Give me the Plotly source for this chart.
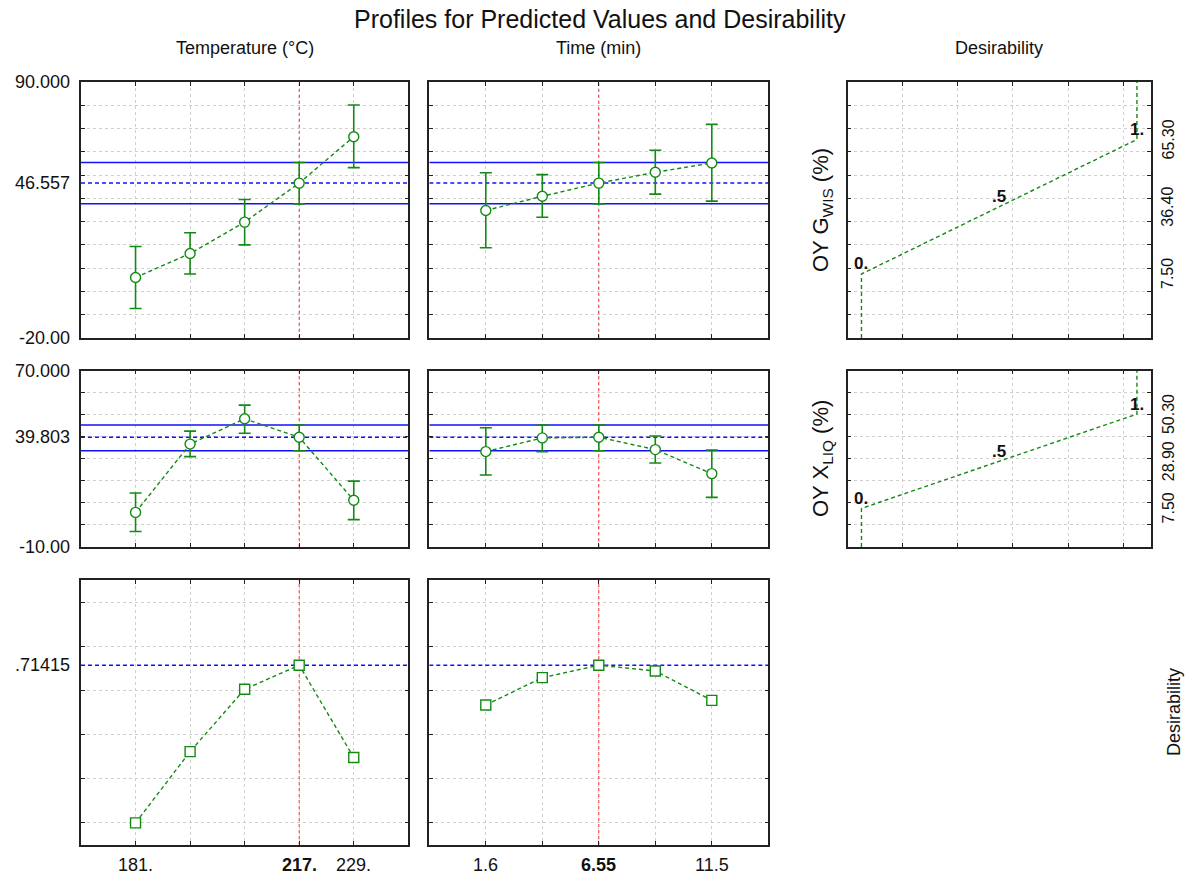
import plotly.graph_objects as go

W, H = 1192, 882

# ---- factor levels -------------------------------------------------------
temperature = [181, 193, 205, 217, 229]
time_min = [1.6, 4.075, 6.55, 9.025, 11.5]
temp_labels = ["181.", "", "", "<b>217.</b>", "229."]
time_labels = ["1.6", "", "<b>6.55</b>", "", "11.5"]
temp_current = 3   # index of 217
time_current = 2   # index of 6.55

# ---- OY G_WIS (%) predictions with confidence limits ---------------------
gwis_temp = [6.0, 16.3, 29.8, 46.557, 66.5]
gwis_temp_lo = [-7.3, 7.5, 20.0, 37.65, 53.2]
gwis_temp_hi = [19.3, 25.2, 39.5, 55.38, 80.1]

gwis_time = [34.8, 40.9, 46.557, 51.2, 55.2]
gwis_time_lo = [18.8, 31.9, 37.65, 41.8, 38.8]
gwis_time_hi = [51.0, 50.2, 55.38, 60.7, 71.8]

# ---- OY X_LIQ (%) predictions with confidence limits ---------------------
xliq_temp = [5.7, 36.7, 48.2, 39.803, 11.2]
xliq_temp_lo = [-3.0, 31.0, 41.6, 33.7, 2.4]
xliq_temp_hi = [14.5, 42.6, 54.4, 45.35, 19.9]

xliq_time = [33.3, 39.5, 39.803, 34.2, 23.3]
xliq_time_lo = [22.7, 33.3, 33.7, 28.1, 12.5]
xliq_time_hi = [44.1, 45.35, 45.35, 40.4, 34.0]

# ---- overall desirability ------------------------------------------------
desir_temp = [0.0, 0.323, 0.605, 0.71415, 0.296]
desir_time = [0.534, 0.658, 0.71415, 0.688, 0.555]

# ---- desirability function settings (value for d=0 and d=1) -------------
gwis_low, gwis_high = 7.50, 65.30
xliq_low, xliq_high = 7.50, 50.30
desir_levels = ["<b>0.</b>", "<b>.5</b>", "<b>1.</b>"]

# ---- axis ranges & labels ------------------------------------------------
gwis_range = [-20, 90]
xliq_range = [-10, 70]
desir_range = [-0.1, 1.1]
gwis_ylabels = ["-20.00", "46.557", "90.000"]
xliq_ylabels = ["-10.00", "39.803", "70.000"]
desir_ylabel = ".71415"

GREEN = "#138a13"
BLUE = "#1010ff"
RED = "#ff3030"
FONT = "Liberation Sans, Arial, sans-serif"


def px(x):
    return x / W


def py(y):
    return 1 - y / H


col1 = [px(81), px(408.3)]
col2 = [px(429.3), px(768.3)]
col3 = [px(847.7), px(1150.7)]
row1 = [py(338), py(82)]
row2 = [py(547), py(370.7)]
row3 = [py(845), py(580)]

t_step = temperature[1] - temperature[0]
m_step = time_min[1] - time_min[0]
temp_range = [temperature[0] - t_step, temperature[-1] + t_step]
time_range = [time_min[0] - m_step, time_min[-1] + m_step]


def axis(domain, rng, tickvals, anchor):
    return dict(
        domain=domain, range=rng, tickvals=tickvals, anchor=anchor,
        showline=True, linecolor="#222222", linewidth=1.5, mirror="ticks",
        ticks="inside", ticklen=4, tickwidth=1, tickcolor="#222222",
        showgrid=True, gridcolor="#cfcfcf", griddash="dot", gridwidth=1,
        zeroline=False, showticklabels=False, fixedrange=True,
    )


gwis_grid = list(range(-20, 91, 10))
xliq_grid = list(range(-10, 71, 10))
desir_grid = [0, 0.2, 0.4, 0.6, 0.8, 1.0]
dfun_grid = [0.15, 0.35, 0.55, 0.75, 0.95]
dfun_range = [-0.05, 1.05]

fig = go.Figure()


def ref_line(xs, ys, xa, ya, color, dash, width):
    fig.add_trace(go.Scatter(
        x=xs, y=ys, xaxis=xa, yaxis=ya, mode="lines",
        line=dict(color=color, width=width, dash=dash),
        showlegend=False, hoverinfo="skip",
    ))


def current_lines(xa, ya, xrng, yrng, xcur, vals, lo, hi, i):
    # current setting (red), prediction (dashed blue) and limits (solid blue)
    ref_line([xcur, xcur], yrng, xa, ya, RED, "dot", 1)
    if lo is not None:
        ref_line(xrng, [lo[i], lo[i]], xa, ya, BLUE, "solid", 1.5)
        ref_line(xrng, [hi[i], hi[i]], xa, ya, BLUE, "solid", 1.5)
    ref_line(xrng, [vals[i], vals[i]], xa, ya, BLUE, "4px,3px", 1.5)


def profile(xs, ys, lo, hi, xa, ya):
    fig.add_trace(go.Scatter(
        x=xs, y=ys, xaxis=xa, yaxis=ya, mode="lines+markers",
        line=dict(color=GREEN, width=1.4, dash="4px,3px"),
        marker=dict(symbol="circle", size=10, color="white",
                    line=dict(color=GREEN, width=1.4)),
        error_y=dict(type="data", symmetric=False,
                     array=[h - v for h, v in zip(hi, ys)],
                     arrayminus=[v - l for v, l in zip(ys, lo)],
                     color=GREEN, thickness=1.6, width=6),
        showlegend=False, hoverinfo="skip",
    ))


def desir_profile(xs, ys, xa, ya):
    fig.add_trace(go.Scatter(
        x=xs, y=ys, xaxis=xa, yaxis=ya, mode="lines+markers",
        line=dict(color=GREEN, width=1.4, dash="4px,3px"),
        marker=dict(symbol="square", size=10, color="white",
                    line=dict(color=GREEN, width=1.4)),
        showlegend=False, hoverinfo="skip",
    ))


def desir_function(low, high, rng, xa, ya):
    fig.add_trace(go.Scatter(
        x=[0, 0, 1, 1], y=[rng[0], low, high, rng[1]], xaxis=xa, yaxis=ya,
        mode="lines", line=dict(color=GREEN, width=1.4, dash="4px,3px"),
        showlegend=False, hoverinfo="skip",
    ))


tc = temperature[temp_current]
mc = time_min[time_current]

current_lines("x", "y", temp_range, gwis_range, tc,
              gwis_temp, gwis_temp_lo, gwis_temp_hi, temp_current)
profile(temperature, gwis_temp, gwis_temp_lo, gwis_temp_hi, "x", "y")

current_lines("x2", "y2", time_range, gwis_range, mc,
              gwis_time, gwis_time_lo, gwis_time_hi, time_current)
profile(time_min, gwis_time, gwis_time_lo, gwis_time_hi, "x2", "y2")

desir_function(gwis_low, gwis_high, gwis_range, "x3", "y3")

current_lines("x4", "y4", temp_range, xliq_range, tc,
              xliq_temp, xliq_temp_lo, xliq_temp_hi, temp_current)
profile(temperature, xliq_temp, xliq_temp_lo, xliq_temp_hi, "x4", "y4")

current_lines("x5", "y5", time_range, xliq_range, mc,
              xliq_time, xliq_time_lo, xliq_time_hi, time_current)
profile(time_min, xliq_time, xliq_time_lo, xliq_time_hi, "x5", "y5")

desir_function(xliq_low, xliq_high, xliq_range, "x6", "y6")

current_lines("x7", "y7", temp_range, desir_range, tc,
              desir_temp, None, None, temp_current)
desir_profile(temperature, desir_temp, "x7", "y7")

current_lines("x8", "y8", time_range, desir_range, mc,
              desir_time, None, None, time_current)
desir_profile(time_min, desir_time, "x8", "y8")

fig.update_layout(
    width=W, height=H, margin=dict(l=0, r=0, t=0, b=0),
    paper_bgcolor="white", plot_bgcolor="white",
    font=dict(family=FONT, color="#111111", size=16),
    xaxis=axis(col1, temp_range, temperature, "y"),
    yaxis=axis(row1, gwis_range, gwis_grid, "x"),
    xaxis2=axis(col2, time_range, time_min, "y2"),
    yaxis2=axis(row1, gwis_range, gwis_grid, "x2"),
    xaxis3=axis(col3, dfun_range, dfun_grid, "y3"),
    yaxis3=axis(row1, gwis_range, gwis_grid, "x3"),
    xaxis4=axis(col1, temp_range, temperature, "y4"),
    yaxis4=axis(row2, xliq_range, xliq_grid, "x4"),
    xaxis5=axis(col2, time_range, time_min, "y5"),
    yaxis5=axis(row2, xliq_range, xliq_grid, "x5"),
    xaxis6=axis(col3, dfun_range, dfun_grid, "y6"),
    yaxis6=axis(row2, xliq_range, xliq_grid, "x6"),
    xaxis7=axis(col1, temp_range, temperature, "y7"),
    yaxis7=axis(row3, desir_range, desir_grid, "x7"),
    xaxis8=axis(col2, time_range, time_min, "y8"),
    yaxis8=axis(row3, desir_range, desir_grid, "x8"),
)

ann = []


def text(x, y, s, size=16, **kw):
    d = dict(x=x, y=y, text=s, showarrow=False,
             font=dict(size=size, family=FONT, color="#111111"),
             xref="paper", yref="paper", xanchor="center", yanchor="middle")
    d.update(kw)
    ann.append(d)


text(px(600), py(19), "Profiles for Predicted Values and Desirability", size=25)
text(px(245), py(48), "Temperature (°C)", size=18)
text(px(598), py(48), "Time (min)", size=18)
text(px(999), py(48), "Desirability", size=18)

# left value labels
gwis_ypos = [gwis_range[0], gwis_temp[temp_current], gwis_range[1]]
xliq_ypos = [xliq_range[0], xliq_temp[temp_current], xliq_range[1]]
for lab, yv in zip(gwis_ylabels, gwis_ypos):
    text(px(72), yv, lab, size=18, yref="y", xanchor="right")
for lab, yv in zip(xliq_ylabels, xliq_ypos):
    text(px(72), yv, lab, size=18, yref="y4", xanchor="right")
text(px(72), desir_temp[temp_current], desir_ylabel, size=18, yref="y7",
     xanchor="right")

# factor level labels under the bottom row
for lab, xv in zip(temp_labels, temperature):
    if lab:
        text(xv, py(865), lab, size=18, xref="x7")
for lab, xv in zip(time_labels, time_min):
    if lab:
        text(xv, py(865), lab, size=18, xref="x8")

# desirability function panels
for xa, ya, low, high in [("x3", "y3", gwis_low, gwis_high),
                          ("x6", "y6", xliq_low, xliq_high)]:
    mid = (low + high) / 2
    for lev, xv, yv in zip(desir_levels, [0, 0.5, 1], [low, mid, high]):
        text(xv, yv, lev, size=17, xref=xa, yref=ya, yshift=10)
    for yv in [low, mid, high]:
        text(px(1168), yv, f"{yv:.2f}", size=16, yref=ya, textangle=-90)

text(px(822), py(210), "OY G<sub>WIS</sub> (%)", size=22, textangle=-90)
text(px(822), py(459), "OY X<sub>LIQ</sub> (%)", size=22, textangle=-90)
text(px(1174), py(712), "Desirability", size=18, textangle=-90)

fig.update_layout(annotations=ann)
fig.write_html("out.html")
